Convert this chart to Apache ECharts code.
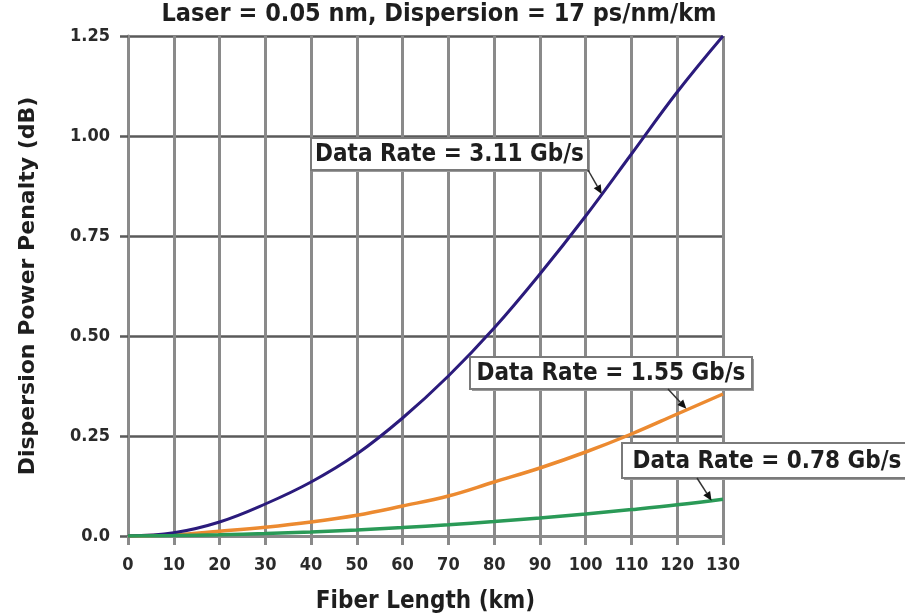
<!DOCTYPE html>
<html>
<head>
<meta charset="utf-8">
<script src="https://cdn.jsdelivr.net/npm/echarts@6/dist/echarts.min.js"></script>
<style>
  html, body { margin: 0; padding: 0; background: #ffffff; }
  #chart { width: 905px; height: 613px; }
</style>
</head>
<body>
<div id="chart"></div>
<script>
// Fiber length (km) sample points
const lengthKm = [0, 10, 20, 30, 40, 50, 60, 70, 80, 90, 100, 110, 120, 130];

// Dispersion power penalty (dB) per data rate
const penalty311 = [0, 0.008, 0.035, 0.08, 0.135, 0.205, 0.295, 0.40, 0.52, 0.655, 0.80, 0.955, 1.11, 1.25];
const penalty155 = [0, 0.003, 0.012, 0.022, 0.035, 0.052, 0.075, 0.10, 0.135, 0.17, 0.21, 0.255, 0.305, 0.355];
const penalty078 = [0, 0.001, 0.003, 0.006, 0.010, 0.015, 0.021, 0.028, 0.036, 0.045, 0.055, 0.066, 0.078, 0.092];

// Axis tick labels
const xTicks = ['0', '10', '20', '30', '40', '50', '60', '70', '80', '90', '100', '110', '120', '130'];
const yTicks = ['0.0', '0.25', '0.50', '0.75', '1.00', '1.25'];

// Series names and where each callout's arrow points on its curve
const seriesNames = ['Data Rate = 3.11 Gb/s', 'Data Rate = 1.55 Gb/s', 'Data Rate = 0.78 Gb/s'];
const arrowTargets = [[103.5, 0.855], [122, 0.318], [127.5, 0.088]];

const fontMain = '"DejaVu Sans Condensed", "DejaVu Sans", sans-serif';
const fontWide = '"DejaVu Sans", sans-serif';

function pairs(ys) { return lengthKm.map((x, i) => [x, ys[i]]); }

const chart = echarts.init(document.getElementById('chart'), null, { renderer: 'canvas' });

const lineColors = ['#2b1b7c', '#ec8a30', '#2a9a57'];

chart.setOption({
  animation: false,
  backgroundColor: '#ffffff',
  title: {
    text: 'Laser = 0.05 nm, Dispersion = 17 ps/nm/km',
    left: 434, top: -3, textAlign: 'center',
    textStyle: { fontFamily: fontMain, fontWeight: 'bold', fontSize: 25, color: '#1e1e1e' }
  },
  grid: { left: 128, right: 182, top: 36, bottom: 77, containLabel: false, outerBoundsMode: 'none' },
  xAxis: {
    type: 'value', min: 0, max: 130, interval: 10,
    name: 'Fiber Length (km)', nameLocation: 'middle', nameGap: 54,
    nameTextStyle: { fontFamily: fontMain, fontWeight: 'bold', fontSize: 24, color: '#1e1e1e' },
    axisLine: { show: true, lineStyle: { color: '#8a8a8a', width: 3 } },
    axisTick: { show: true, length: 9, lineStyle: { color: '#8a8a8a', width: 3 } },
    axisLabel: {
      margin: 20, fontFamily: fontMain, fontWeight: 'bold', fontSize: 18, color: '#2a2a2a',
      formatter: v => xTicks[Math.round(v / 10)]
    },
    splitLine: { show: true, lineStyle: { color: '#8a8a8a', width: 3 } }
  },
  yAxis: {
    type: 'value', min: 0, max: 1.25, interval: 0.25,
    name: 'Dispersion Power Penalty (dB)', nameLocation: 'middle', nameGap: 89, nameRotate: 90,
    nameTextStyle: { fontFamily: fontWide, fontWeight: 'bold', fontSize: 22, color: '#1e1e1e' },
    axisLine: { show: true, lineStyle: { color: '#8a8a8a', width: 3 } },
    axisTick: { show: true, length: 8, lineStyle: { color: '#5a5a5a', width: 2.5 } },
    axisLabel: {
      margin: 18, fontFamily: fontMain, fontWeight: 'bold', fontSize: 18, color: '#2a2a2a',
      formatter: v => yTicks[Math.round(v / 0.25)]
    },
    splitLine: { show: true, lineStyle: { color: '#5a5a5a', width: 2.5 } }
  },
  series: [
    { name: seriesNames[0], type: 'line', data: pairs(penalty311), smooth: 0.4, showSymbol: false,
      lineStyle: { color: lineColors[0], width: 3 }, z: 4 },
    { name: seriesNames[1], type: 'line', data: pairs(penalty155), smooth: 0.4, showSymbol: false,
      lineStyle: { color: lineColors[1], width: 3.5 }, z: 3 },
    { name: seriesNames[2], type: 'line', data: pairs(penalty078), smooth: 0.4, showSymbol: false,
      lineStyle: { color: lineColors[2], width: 3.5 }, z: 5 }
  ]
});

// Callout boxes with arrows pointing to each curve
const boxes = [
  { x: 311, y: 138, w: 277, h: 32, arrowX: 588 },
  { x: 470, y: 357, w: 282, h: 32, arrowX: 668 },
  { x: 622, y: 443, w: 290, h: 35, arrowX: 697 }
];

const graphics = [];
boxes.forEach((b, i) => {
  const tip = chart.convertToPixel({ gridIndex: 0 }, arrowTargets[i]);
  const start = [b.arrowX, b.y + b.h];
  graphics.push({
    type: 'rect', z: 20,
    shape: { x: b.x + 2, y: b.y + 2, width: b.w, height: b.h },
    style: { fill: '#9a9a9a' }
  });
  graphics.push({
    type: 'rect', z: 21,
    shape: { x: b.x, y: b.y, width: b.w, height: b.h },
    style: { fill: '#ffffff', stroke: '#7a7a7a', lineWidth: 2 }
  });
  graphics.push({
    type: 'text', z: 22,
    x: b.x + b.w / 2, y: b.y + b.h / 2 + 1,
    style: {
      text: seriesNames[i], align: 'center', verticalAlign: 'middle',
      fontFamily: fontMain, fontWeight: 'bold', fontSize: 24, fill: '#1e1e1e'
    }
  });
  // arrow shaft and head
  const dx = tip[0] - start[0], dy = tip[1] - start[1];
  const len = Math.sqrt(dx * dx + dy * dy);
  const ux = dx / len, uy = dy / len;
  const headLen = 9, headW = 4;
  const base = [tip[0] - ux * headLen, tip[1] - uy * headLen];
  graphics.push({
    type: 'line', z: 22,
    shape: { x1: start[0], y1: start[1], x2: base[0], y2: base[1] },
    style: { stroke: '#333333', lineWidth: 1.5 }
  });
  graphics.push({
    type: 'polygon', z: 22,
    shape: { points: [tip, [base[0] - uy * headW, base[1] + ux * headW], [base[0] + uy * headW, base[1] - ux * headW]] },
    style: { fill: '#111111' }
  });
});
chart.setOption({ graphic: graphics });
</script>
</body>
</html>
